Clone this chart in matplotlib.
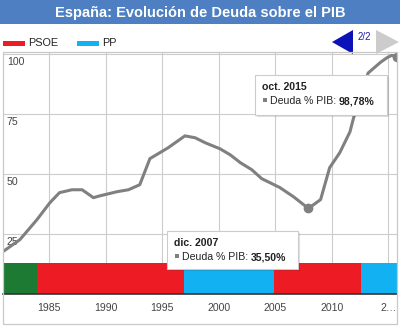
"""Spain: public debt as % of GDP with governing-party band."""

import matplotlib

matplotlib.use("Agg", force=True)
import matplotlib.pyplot as plt
from matplotlib.patches import Polygon, Rectangle
from matplotlib.transforms import blended_transform_factory

plt.rcParams["font.family"] = ["Liberation Sans", "DejaVu Sans"]

W, H = 400, 327

# debt series (decimal year, % of GDP)
years = [1980.9, 1982.4, 1983.9, 1985.05, 1985.9, 1987.0, 1987.9, 1988.9, 1989.5,
         1991.0, 1992.0, 1993.0, 1993.9, 1995.5, 1997.0, 1997.9, 1998.8, 2000.1,
         2001.0, 2001.9, 2002.9, 2003.8, 2004.5, 2005.4, 2006.6, 2007.92, 2009.0,
         2009.8, 2010.7, 2011.6, 2011.9, 2013.2, 2014.3, 2014.9, 2015.3, 2015.75]
debt = [17.5, 22.5, 30.8, 37.9, 42.1, 43.3, 43.3, 40.0, 40.8,
        42.5, 43.3, 45.4, 56.3, 60.8, 65.8, 65.0, 62.9, 60.4,
        57.9, 54.6, 51.7, 47.9, 46.3, 44.2, 40.4, 35.50, 39.2,
        52.5, 58.8, 67.5, 73.0, 92.0, 96.5, 98.5, 99.4, 98.78]

# governing party periods
party = ["UCD", "PSOE", "PP", "PSOE", "PP"]
party_start = [1980.9, 1983.9, 1996.9, 2004.9, 2012.6]
party_end = [1983.9, 1996.9, 2004.9, 2012.6, 2015.75]
party_colors = {"UCD": "#1d7a32", "PSOE": "#ed1c24", "PP": "#11b1f2"}

x_ticks = [1985, 1990, 1995, 2000, 2005, 2010, 2015]
x_labels = ["1985", "1990", "1995", "2000", "2005", "2010", "2\u2026"]
y_ticks = [25, 50, 75, 100]

# highlighted points: (index into series, header)
tips = [(25, "dic. 2007"), (35, "oct. 2015")]


def fig_rect(x, y, w, h, **kw):
    """Rectangle in pixel coords measured from the top-left corner."""
    return Rectangle((x / W, 1 - (y + h) / H), w / W, h / H,
                     transform=fig.transFigure, **kw)


def fig_xy(x, y):
    return x / W, 1 - y / H


fig = plt.figure(figsize=(W / 100, H / 100), dpi=100)
renderer = fig.canvas.get_renderer()

# title bar
fig.add_artist(fig_rect(0, 0, W, 24, facecolor="#4d7fc2", edgecolor="none"))
fig.text(*fig_xy(200, 12.5), "España: Evolución de Deuda sobre el PIB",
         color="white", fontsize=10.5, fontweight="bold", ha="center", va="center")

# legend
for lx, name in [(3, "PSOE"), (77, "PP")]:
    fig.add_artist(fig_rect(lx, 41, 22, 5, facecolor=party_colors[name], edgecolor="none"))
    fig.text(*fig_xy(lx + 25, 42.5), name, fontsize=7.8, color="#222222", va="center")

# page arrows
fig.add_artist(Polygon([fig_xy(332, 42), fig_xy(353, 30), fig_xy(353, 54)],
                       closed=True, facecolor="#0a12b8", edgecolor="none",
                       transform=fig.transFigure))
fig.add_artist(Polygon([fig_xy(376, 30), fig_xy(376, 54), fig_xy(399, 42)],
                       closed=True, facecolor="#cccccc", edgecolor="none",
                       transform=fig.transFigure))
fig.text(*fig_xy(364.5, 37), "2/2", fontsize=7, color="#1a1ab0", ha="center", va="center")

# plot area
ax = fig.add_axes([3 / W, 1 - 293.5 / H, 394 / W, 241.5 / H])
ax.set_xlim(1980.9, 2015.76)
ax.set_ylim(0, 100.8)
for s in ["top", "left", "right"]:
    ax.spines[s].set_visible(False)
ax.spines["bottom"].set_color("#333333")
ax.spines["bottom"].set_linewidth(1.2)
ax.spines["bottom"].set_zorder(6)

ax.set_xticks(x_ticks)
ax.set_xticklabels(x_labels, fontsize=7.6, color="#444444")
ax.tick_params(axis="x", length=0, pad=6.5)
ax.set_yticks(y_ticks)
ax.set_yticklabels([])
ax.tick_params(axis="y", length=0)
ax.grid(True, color="#cccccc", linewidth=0.8)
ax.set_axisbelow(True)

ytrans = blended_transform_factory(ax.transAxes, ax.transData)
for v in y_ticks:
    ax.annotate(str(v), xy=(0.01, v), xycoords=ytrans, xytext=(0, -2.5),
                textcoords="offset points", va="top", ha="left",
                fontsize=7.6, color="#444444")

# governing-party band
band = 0.126
for name, a, b in zip(party, party_start, party_end):
    ax.axvspan(a, b, ymin=0, ymax=band, color=party_colors[name], lw=0, zorder=3)

ax.plot(years, debt, color="#808080", linewidth=2.2, solid_joinstyle="round", zorder=4)
for i, _ in tips:
    ax.plot(years[i], debt[i], "o", color="#808080", markersize=6, zorder=5)

# outer frame
fig.add_artist(fig_rect(3, 52, 394, 272, facecolor="none", edgecolor="#c8c8c8", linewidth=0.9))

# tooltips: (box x, y, w, h)
boxes = [(167, 231, 131, 38), (255, 75, 132, 40)]
for (i, header), (bx, by, bw, bh) in zip(tips, boxes):
    fig.add_artist(fig_rect(bx + 2, by + 2, bw, bh, facecolor="#000000", alpha=0.12,
                            edgecolor="none", zorder=8))
    fig.add_artist(fig_rect(bx, by, bw, bh, facecolor="white", edgecolor="#cccccc",
                            linewidth=0.8, zorder=9))
    fig.text(*fig_xy(bx + 7, by + 15), header, fontsize=7.6, fontweight="bold",
             color="#222222", va="baseline", zorder=10)
    fig.add_artist(fig_rect(bx + 8, by + 23, 4, 4, facecolor="#808080", edgecolor="none",
                            zorder=10))
    t = fig.text(*fig_xy(bx + 15, by + 29.5), "Deuda % PIB: ", fontsize=7.6,
                 color="#222222", va="baseline", zorder=10)
    ext = t.get_window_extent(renderer)
    value = f"{debt[i]:.2f}".replace(".", ",") + "%"
    fig.text(ext.x1 / fig.bbox.width, 1 - (by + 29.5) / H, value, fontsize=7.6,
             fontweight="bold", color="#222222", va="baseline", zorder=10)

fig.savefig("out.png", dpi=100)
